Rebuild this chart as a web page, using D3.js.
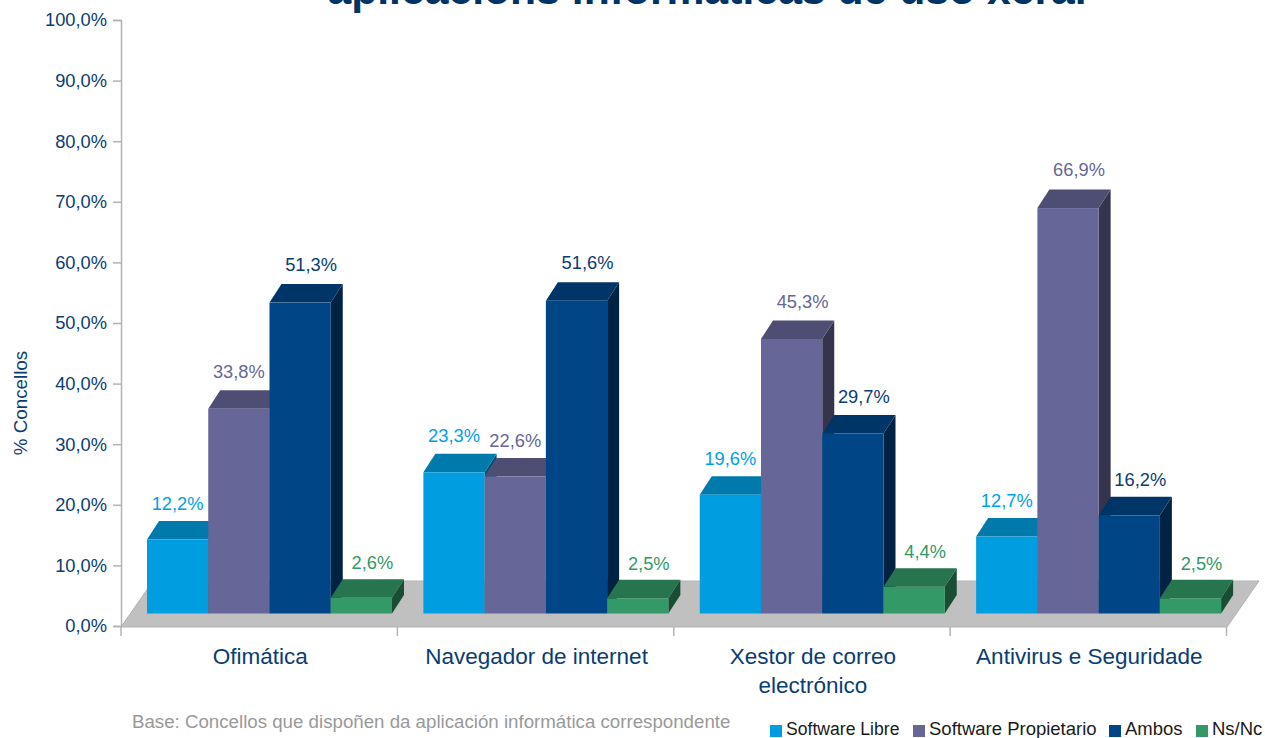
<!DOCTYPE html>
<html>
<head>
<meta charset="utf-8">
<style>
  html, body { margin: 0; padding: 0; background: #fff; overflow: hidden; }
  text { font-family: "Liberation Sans", Arial, sans-serif; }
</style>
<script src="https://d3js.org/d3.v7.min.js"></script>
</head>
<body>
<div id="chart"></div>
<script>
const categories = ["Ofimática", "Navegador de internet", "Xestor de correo electrónico", "Antivirus e Seguridade"];
const seriesNames = ["Software Libre", "Software Propietario", "Ambos", "Ns/Nc"];
const softwareLibre = [12.2, 23.3, 19.6, 12.7];
const softwarePropietario = [33.8, 22.6, 45.3, 66.9];
const ambos = [51.3, 51.6, 29.7, 16.2];
const nsNc = [2.6, 2.5, 4.4, 2.5];
const seriesValues = [softwareLibre, softwarePropietario, ambos, nsNc];
const seriesColors = ["#009ee0", "#666699", "#004586", "#339966"];
const yTicks = [0, 10, 20, 30, 40, 50, 60, 70, 80, 90, 100];

const width = 1265, height = 738;
const navy = "#003366";
const textNavy = "#0a3d72";
const axisGrey = "#b3b3b3";

// profundidade 3D
const depthX = 12, depthY = 18.5;
const baseShift = 12.5; // as barras están por riba do eixo

const svg = d3.select("#chart").append("svg")
  .attr("width", width)
  .attr("height", height)
  .style("display", "block");

const fmt = v => v.toFixed(1).replace(".", ",") + "%";

// escalas
const x0 = d3.scaleBand().domain(categories).range([121, 1226.5]);
const x1 = d3.scaleBand().domain(seriesNames).range([26, 271]);
const y = d3.scaleLinear().domain([0, 100]).range([626, 20]);

// título (a primeira liña queda fóra do lenzo)
svg.append("text")
  .attr("x", 707)
  .attr("y", 3.5)
  .attr("text-anchor", "middle")
  .attr("font-size", 42.7)
  .attr("font-weight", "bold")
  .attr("fill", navy)
  .text("aplicacións informáticas de uso xeral");

// chan
svg.append("polygon")
  .attr("points", [[121, 627], [1227, 627], [1259, 581], [153, 581]].join(" "))
  .attr("fill", "#c0c0c0")
  .attr("stroke", "#b3b3b3")
  .attr("stroke-width", 1);

// eixo Y
const yAxis = d3.axisLeft(y).tickValues(yTicks).tickFormat(fmt).tickSize(8).tickPadding(6);
const yG = svg.append("g").attr("transform", "translate(121,0)").call(yAxis);
yG.selectAll("path, line").attr("stroke", axisGrey).attr("stroke-width", 1.5);
yG.selectAll("text").attr("font-size", 18.3).attr("fill", textNavy)
  .style("font-family", '"Liberation Sans", Arial, sans-serif');

// eixo X
const xAxis = d3.axisBottom(x0).tickSize(0).tickFormat("");
const xG = svg.append("g").attr("transform", "translate(0,627)").call(xAxis);
xG.select("path").remove();
xG.selectAll(".sep")
  .data(d3.range(categories.length + 1))
  .join("line")
  .attr("class", "sep")
  .attr("x1", i => x0.range()[0] + i * x0.step())
  .attr("x2", i => x0.range()[0] + i * x0.step())
  .attr("y1", 0)
  .attr("y2", 9)
  .attr("stroke", axisGrey)
  .attr("stroke-width", 1.5);

// etiquetas de categoría, con salto de liña no terceiro grupo
const catLines = d => d.length > 24 ? ["Xestor de correo", "electrónico"] : [d];
svg.append("g").selectAll("text")
  .data(categories)
  .join("text")
  .attr("x", d => x0(d) + x0.bandwidth() / 2 + 1)
  .attr("y", 663.5)
  .attr("text-anchor", "middle")
  .attr("font-size", 22.5)
  .attr("fill", textNavy)
  .selectAll("tspan")
  .data(d => catLines(d))
  .join("tspan")
  .attr("x", function() { return d3.select(this.parentNode).attr("x"); })
  .attr("dy", (d, i) => i ? 29 : 0)
  .text(d => d);

// título do eixo Y
svg.append("text")
  .attr("transform", "translate(27,403) rotate(-90)")
  .attr("text-anchor", "middle")
  .attr("font-size", 18.8)
  .attr("fill", textNavy)
  .text("% Concellos");

// barras
const rows = categories.map((c, ci) => seriesNames.map((s, si) => ({
  cat: c, name: s, si: si, value: seriesValues[si][ci],
  next: si < seriesNames.length - 1 ? seriesValues[si + 1][ci] : null,
  color: seriesColors[si]
})));

const bars = svg.append("g").selectAll("g")
  .data(rows.flat())
  .join("g");

bars.each(function(d) {
  const g = d3.select(this);
  const x = x0(d.cat) + x1(d.name);
  const w = x1.bandwidth();
  const yTop = y(d.value) - baseShift;
  const yBase = y(0) - baseShift;
  const c = d3.color(d.color);
  // lado
  g.append("polygon")
    .attr("points", [[x + w, yTop], [x + w + depthX, yTop - depthY], [x + w + depthX, yBase - depthY], [x + w, yBase]].join(" "))
    .attr("fill", c.darker(1.9));
  // tapa
  g.append("polygon")
    .attr("points", [[x, yTop], [x + depthX, yTop - depthY], [x + w + depthX, yTop - depthY], [x + w, yTop]].join(" "))
    .attr("fill", c.darker(0.75));
  // fronte
  g.append("rect")
    .attr("x", x).attr("y", yTop)
    .attr("width", w).attr("height", yBase - yTop)
    .attr("fill", d.color);
});

// etiquetas de valor
svg.append("g").selectAll("text")
  .data(rows.flat())
  .join("text")
  .attr("x", d => {
    const shift = (d.si > 0 && (d.next === null || d.next < d.value)) ? 11 : 0;
    return x0(d.cat) + x1(d.name) + x1.bandwidth() / 2 + shift;
  })
  .attr("y", d => y(d.value) - baseShift - depthY - 10 - d.value * 0.06)
  .attr("text-anchor", "middle")
  .attr("font-size", 18.3)
  .attr("fill", (d) => d.si === 0 ? "#00a0e8" : d.si === 1 ? "#666699" : d.si === 2 ? textNavy : "#339966")
  .text(d => fmt(d.value));

// nota ao pé
svg.append("text")
  .attr("x", 132)
  .attr("y", 728)
  .attr("font-size", 18.7)
  .attr("fill", "#999999")
  .text("Base: Concellos que dispoñen da aplicación informática correspondente");

// lenda
const legendX = [770, 913, 1109, 1196];
const legend = svg.append("g").selectAll("g")
  .data(seriesNames)
  .join("g")
  .attr("transform", (d, i) => `translate(${legendX[i]},725)`);
legend.append("rect")
  .attr("width", 12).attr("height", 12)
  .attr("fill", (d, i) => seriesColors[i]);
legend.append("text")
  .attr("x", 16).attr("y", 10)
  .attr("font-size", (d, i) => i === 0 ? 17.6 : 18.5)
  .attr("fill", "#1a1a1a")
  .text(d => d);
</script>
</body>
</html>
